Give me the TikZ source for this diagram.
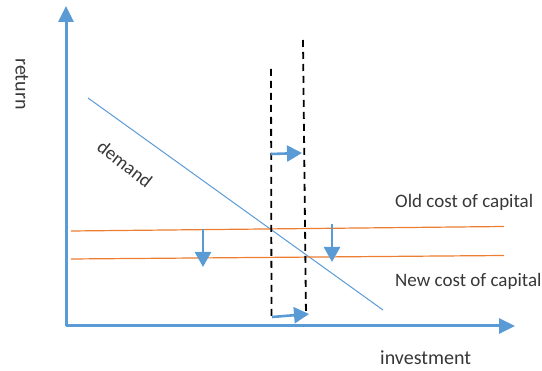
\documentclass[tikz,border=0pt]{standalone}
\usepackage{fontspec}
\setmainfont{Carlito}
\usetikzlibrary{arrows.meta}
\definecolor{axisblue}{RGB}{91,155,213}
\definecolor{costorange}{RGB}{237,125,49}
\definecolor{labgray}{RGB}{55,55,55}
\begin{document}
\begin{tikzpicture}[x=1pt,y=-1pt,
  axis/.style={axisblue,line width=3pt,-{Triangle[length=16pt,width=15pt]}},
  shiftarrow/.style={axisblue,line width=2.6pt,-{Triangle[length=15pt,width=16pt]}},
  cost/.style={costorange,line width=1.2pt},
  dline/.style={black,line width=1.8pt,dash pattern=on 7pt off 5pt},
  lab/.style={font=\fontsize{19}{22}\selectfont,text=labgray,inner sep=0pt},
  biglab/.style={font=\fontsize{20}{24}\selectfont,text=labgray,inner sep=0pt}]
\useasboundingbox (0,0) rectangle (542,371);
% axes
\coordinate (O) at (66,326);
\coordinate (Ytop) at (66,6);
\coordinate (Xend) at (515,326);
\draw[axis] (O) -- (Ytop);
\draw[axis] (O) -- (Xend);
% demand
\coordinate (D1) at (88,98);
\coordinate (D2) at (383,310);
\draw[axisblue,line width=1pt] (D1) -- (D2);
% cost of capital lines
\coordinate (OC1) at (71,231);
\coordinate (OC2) at (504,226.5);
\coordinate (NC1) at (71,259);
\coordinate (NC2) at (504,255.5);
\draw[cost] (OC1) -- (OC2);
\draw[cost] (NC1) -- (NC2);
% dashed lines
\coordinate (L1) at (271,69);
\coordinate (L2) at (271.5,317);
\coordinate (R1) at (303,40);
\coordinate (R2) at (306,316);
\draw[dline] (L1) -- (L2);
\draw[dline] (R1) -- (R2);
% shift arrows
\coordinate (A1s) at (271,154);
\coordinate (A1e) at (302,153);
\draw[shiftarrow] (A1s) -- (A1e);
\coordinate (A2s) at (272,317);
\coordinate (A2e) at (309,314);
\draw[shiftarrow] (A2s) -- (A2e);
\coordinate (B1s) at (203,229);
\coordinate (B1e) at (203,267);
\draw[shiftarrow] (B1s) -- (B1e);
\coordinate (B2s) at (332,224);
\coordinate (B2e) at (332,262);
\draw[shiftarrow] (B2s) -- (B2e);
% labels
\node[biglab,rotate=-90] (ret) at (22,84) {return};
\node[lab,rotate=-38] (dem) at (125,164) {demand};
\node[lab,anchor=base west] (old) at (395,208) {Old cost of capital};
\node[lab,anchor=base west] (new) at (395,287) {New cost of capital};
\node[biglab,anchor=base west] (inv) at (380,365) {investment};
\end{tikzpicture}
\end{document}
